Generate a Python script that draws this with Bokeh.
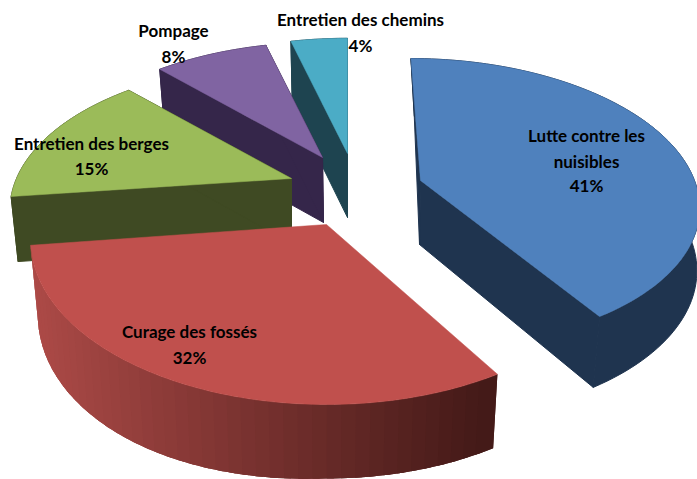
import numpy as np
from bokeh.plotting import figure
from bokeh.models import Range1d
from bokeh.core.properties import value
from bokeh.embed import file_html
from bokeh.resources import INLINE

# --- data ---
categories = ["Lutte contre les nuisibles", "Curage des fossés", "Entretien des berges", "Pompage", "Entretien des chemins"]
shares = [41, 32, 15, 8, 4]

# --- colours ---
top_colors = ["#4F81BD", "#C0504D", "#9BBB59", "#8064A2", "#4BACC6"]
side_colors = ["#1F344F", None, "#3F4A23", "#35264A", "#1E4450"]
red_side_left = np.array([172, 74, 71])
red_side_right = np.array([68, 26, 24])

# --- layout of the exploded 3D pie (pixels): apex top, apex bottom, A, B, perspective k, lean, low-ring scale
apex_top = [(420, 180), (326, 224), (291, 178), (322, 157), (347, 153)]
apex_low = [(419, 244), (326, 298), (291, 243), (323, 222), (347, 217)]
ellipse_A = [274, 295, 275, 275, 275]
ellipse_B = [140.5, 164, 140, 140, 140]
persp_k = [0.152, 0.089, 0.215, 0.215, 0.215]
lean_top = [11, 0, 0, 0, 0]
lean_low = [6, 0, 0, 0, 0]
low_ax = [0.997, 0.975, 0.975, 0.975, 0.975]
low_by = [1.05, 1.0, 1.0, 1.0, 1.0]
low_bulge = [0, 6, 0, 0, 0]
draw_order = [4, 3, 0, 2, 1]

# --- labels (lines, centre x, centre y) ---
label_lines = ["Lutte contre les", "nuisibles", "41%", "Curage des fossés", "32%",
               "Entretien des berges", "15%", "Pompage", "8%", "Entretien des chemins", "4%"]
label_x = [586, 586, 586, 189, 189, 91, 91, 173, 173, 360, 360]
label_y = [135, 161, 185, 331, 357, 143, 168, 30, 56, 19, 45]

p = figure(width=697, height=479, output_backend="svg", toolbar_location=None,
           x_range=Range1d(0, 697), y_range=Range1d(479, 0), min_border=0)
p.axis.visible = False
p.grid.visible = False
p.outline_line_color = None
p.background_fill_color = "#FFFFFF"


def ring(i, phi, lower=False):
    s = 1.0 / (1.0 + persp_k[i] * np.cos(phi))
    if lower:
        ax, ay = apex_low[i]
        A, B, L = ellipse_A[i] * low_ax[i], ellipse_B[i] * low_by[i], lean_low[i]
    else:
        ax, ay = apex_top[i]
        A, B, L = ellipse_A[i], ellipse_B[i], lean_top[i]
    x = ax + (A * np.sin(phi) - L * np.cos(phi)) * s
    y = ay - B * np.cos(phi) * s
    if lower:
        # the lower rim swells a little on the front-left quadrant
        q = np.clip(phi - np.pi, 0, np.pi / 2)
        y = y + low_bulge[i] * np.sin(2 * q)
    return x, y


fractions = np.array(shares, dtype=float) / sum(shares)
stops = np.concatenate([[0], np.cumsum(fractions)]) * 2 * np.pi

for i in draw_order:
    phi = np.linspace(stops[i], stops[i + 1], 90)
    tx, ty = ring(i, phi)
    lx, ly = ring(i, phi, lower=True)
    a0, a1 = apex_top[i], apex_low[i]
    if side_colors[i] is not None:
        c = side_colors[i]
        p.patch(list(tx) + list(lx[::-1]), list(ty) + list(ly[::-1]),
                fill_color=c, line_color=c, line_width=1)
        for k in (0, -1):
            p.patch([a0[0], a1[0], lx[k], tx[k]], [a0[1], a1[1], ly[k], ty[k]],
                    fill_color=c, line_color=c, line_width=1)
    else:
        # shaded outer wall, painted from the dark end back so that each band overlaps the next
        xmin, xmax = lx.min(), lx.max()
        n = len(phi) - 1
        for j in range(n - 1, -1, -2):
            e = min(j + 3, n)
            t = ((tx[j] + tx[j + 1]) / 2 - xmin) / (xmax - xmin)
            c = red_side_left + (red_side_right - red_side_left) * np.clip(t, 0, 1)
            col = "#%02X%02X%02X" % tuple(int(v) for v in c)
            seg = np.arange(max(j - 2, 0), e + 1)
            p.patch(list(tx[seg]) + list(lx[seg][::-1]), list(ty[seg]) + list(ly[seg][::-1]),
                    fill_color=col, line_color=None)
    p.patch([a0[0]] + list(tx), [a0[1]] + list(ty), fill_color=top_colors[i],
            line_color=top_colors[i], line_width=0.5)

p.text(label_x, label_y, text=label_lines, text_font=value("Lato"), text_font_style="bold",
       text_font_size="17px", text_align="center", text_baseline="middle", text_color="#000000")

open("out.html", "w").write(file_html(p, INLINE))
